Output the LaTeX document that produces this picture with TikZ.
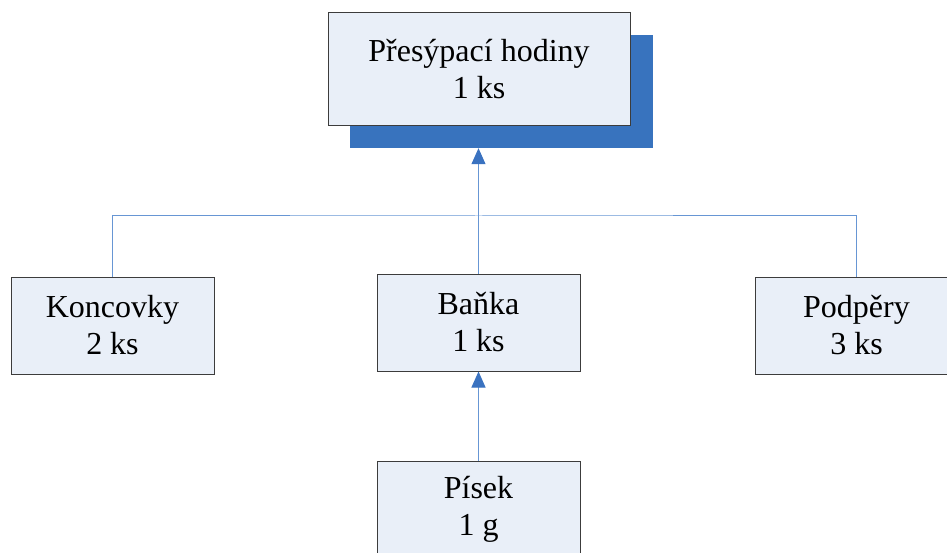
\documentclass[tikz,border=0pt]{standalone}
\usepackage{fontspec}
\setmainfont{Liberation Serif}
\usetikzlibrary{arrows.meta}
\definecolor{boxfill}{HTML}{E9EFF8}
\definecolor{boxline}{HTML}{3C3C3C}
\definecolor{shadowblue}{HTML}{3873BE}
\definecolor{linkblue}{HTML}{6796D4}
\definecolor{tipblue}{HTML}{3A72C0}
\begin{document}
\begin{tikzpicture}[x=1pt,y=-1pt,
  item/.style={draw=boxline, line width=1pt, fill=boxfill, rectangle,
    minimum width=203pt, minimum height=97pt, inner sep=0pt, align=center,
    font=\fontsize{32}{37}\selectfont},
  topitem/.style={item, minimum width=302pt, minimum height=113pt},
  shadowbox/.style={fill=shadowblue, draw=none, rectangle, inner sep=0pt,
    minimum width=303pt, minimum height=113pt},
  link/.style={draw=linkblue, line width=1pt},
  uparrow/.style={link, -{Triangle[width=14pt,length=16pt,fill=tipblue,color=tipblue]}}]
\useasboundingbox (0,0) rectangle (947,553);
\begin{scope}
\clip (0,0) rectangle (947,553);
% main assembly with its drop shadow
\node[shadowbox] (shadow) at (501.5,91.5) {};
\node[topitem] (top) at (479,69.5) {Přesýpací hodiny\\1 ks};
% sub-assemblies
\node[item] (kon) at (112.5,325.5) {Koncovky\\2 ks};
\node[item] (ban) at (478.5,322.5) {Baňka\\1 ks};
\node[item] (pod) at (856.5,325.5) {Podpěry\\3 ks};
\node[item] (pis) at (478.5,509.5) {Písek\\1 g};
% connectors
\coordinate (j) at (478.5,216);
\draw[link] (kon.north) |- (j) -| (pod.north);
\draw[uparrow] (ban.north) -- (ban.north |- shadow.south);
\draw[uparrow] (pis.north) -- (ban.south);
\end{scope}
\end{tikzpicture}
\end{document}
